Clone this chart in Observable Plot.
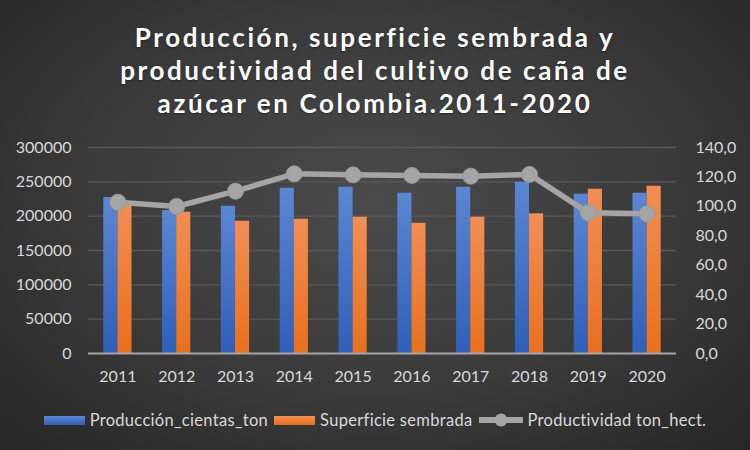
<!DOCTYPE html>
<html>
<head>
<meta charset="utf-8">
<script src="https://cdn.jsdelivr.net/npm/d3@7"></script>
<script src="https://cdn.jsdelivr.net/npm/@observablehq/plot@0.6"></script>
<style>
  html, body { margin: 0; padding: 0; }
  #wrap {
    position: relative; width: 750px; height: 450px; overflow: hidden;
    background: radial-gradient(ellipse at 50% 45%, #4a4a4a 0%, #3a3a3a 55%, #262626 100%);
    font-family: Lato, "Open Sans", sans-serif;
  }
  #title {
    position: absolute; left: 0; top: 21px; width: 750px; text-align: center;
    color: #ffffff; font-weight: bold; font-size: 26px; line-height: 33px;
    letter-spacing: 2.6px;
    text-shadow: 0 1px 2px rgba(0,0,0,0.4);
  }
  #chart { position: absolute; left: 0; top: 125px; }
  #legend {
    position: absolute; left: 0; top: 409px; width: 750px; height: 22px;
    color: #d9d9d9; font-size: 16.5px; letter-spacing: 0.3px;
    display: flex; justify-content: center; align-items: center; gap: 6px;
  }
  .li { display: flex; align-items: center; height: 22px; white-space: nowrap; }
  .sw { width: 41px; height: 9px; margin-right: 5px; }
</style>
</head>
<body>
<div id="wrap">
  <div id="title">Producción, superficie sembrada y<br>productividad del cultivo de caña de<br>azúcar en Colombia.2011-2020</div>
  <div id="chart"></div>
  <div id="legend"></div>
</div>
<script>
const years = ["2011","2012","2013","2014","2015","2016","2017","2018","2019","2020"];
const produccion = [227000, 208200, 214500, 240700, 242100, 233400, 242100, 249400, 232000, 233400];
const superficie = [221000, 205700, 192600, 195500, 198500, 189700, 198500, 203400, 239200, 243600];
const productividad = [102.8, 99.9, 110.3, 122.1, 121.4, 121.0, 120.5, 121.7, 95.6, 94.9];
const leftTicks = [0, 50000, 100000, 150000, 200000, 250000, 300000];
const rightTicks = [0, 20, 40, 60, 80, 100, 120, 140];
const seriesNames = ["Producción_cientas_ton", "Superficie sembrada", "Productividad ton_hect."];

const yMax = 300000, rMax = 140;
const toLeft = v => v * yMax / rMax;

const prodData = years.map((yr, i) => ({year: yr, value: produccion[i]}));
const supData = years.map((yr, i) => ({year: yr, value: superficie[i]}));
const line = years.map((yr, i) => ({year: yr, value: toLeft(productividad[i])}));

const gridC = "#595959", textC = "#d9d9d9";
const half = 14.1;

const chart = Plot.plot({
  width: 750, height: 265,
  marginLeft: 88, marginRight: 74, marginTop: 22, marginBottom: 37,
  style: {background: "transparent", color: textC, fontFamily: "Lato, 'Open Sans', sans-serif", fontSize: "16px", overflow: "visible"},
  x: {domain: years, paddingInner: 0.52, paddingOuter: 0.26, round: false, label: null},
  y: {domain: [0, yMax], label: null},
  marks: [
    Plot.gridY(leftTicks.slice(1), {stroke: gridC, strokeOpacity: 1, strokeWidth: 1.3}),
    Plot.axisY(leftTicks, {anchor: "left", tickSize: 0, tickPadding: 17, label: null, tickFormat: d => String(d), fill: textC, fontSize: 16}),
    Plot.axisY(rightTicks.map(toLeft), {anchor: "right", tickSize: 0, tickPadding: 19, label: null, textAnchor: "start",
      tickFormat: d => (d * rMax / yMax).toFixed(1).replace(".", ","), fill: textC, fontSize: 16}),
    Plot.axisX({tickSize: 0, tickPadding: 17, label: null, fill: textC, fontSize: 16}),
    Plot.barY(prodData, {x: "year", y: "value", fill: "url(#gBlue)", insetRight: half,
      style: {filter: "drop-shadow(1px 1px 1.5px rgba(0,0,0,0.35))"}}),
    Plot.barY(supData, {x: "year", y: "value", fill: "url(#gOrange)", insetLeft: half,
      style: {filter: "drop-shadow(1px 1px 1.5px rgba(0,0,0,0.35))"}}),
    Plot.ruleY([0], {stroke: "#a6a6a6", strokeWidth: 2}),
    Plot.line(line, {x: "year", y: "value", stroke: "#a5a5a5", strokeWidth: 5.5, curve: "linear", style: {filter: "drop-shadow(1px 2px 2px rgba(0,0,0,0.45))"}}),
    Plot.dot(line, {x: "year", y: "value", r: 8, fill: "#a5a5a5", stroke: "#9a9a9a", strokeWidth: 1, style: {filter: "drop-shadow(1px 2px 2px rgba(0,0,0,0.5))"}})
  ]
});

// gradient definitions for bar fills
const ns = "http://www.w3.org/2000/svg";
const defs = document.createElementNS(ns, "defs");
function grad(id, top, bottom) {
  const g = document.createElementNS(ns, "linearGradient");
  g.setAttribute("id", id);
  g.setAttribute("x1", "0"); g.setAttribute("y1", "0");
  g.setAttribute("x2", "0"); g.setAttribute("y2", "1");
  [[0, top], [1, bottom]].forEach(([o, c]) => {
    const s = document.createElementNS(ns, "stop");
    s.setAttribute("offset", o); s.setAttribute("stop-color", c);
    g.appendChild(s);
  });
  defs.appendChild(g);
}
grad("gBlue", "#5b86d2", "#2f5fb9");
grad("gOrange", "#f28e55", "#e8701e");
chart.insertBefore(defs, chart.firstChild);
document.getElementById("chart").appendChild(chart);

// legend
const legend = document.getElementById("legend");
const items = [
  {name: seriesNames[0], html: '<div class="sw" style="background:linear-gradient(#5b86d2,#2f5fb9)"></div>'},
  {name: seriesNames[1], html: '<div class="sw" style="background:linear-gradient(#f28e55,#e8701e)"></div>'},
  {name: seriesNames[2], html: '<svg width="46" height="16" style="margin-right:3px"><line x1="1" y1="8" x2="45" y2="8" stroke="#a5a5a5" stroke-width="6"/><circle cx="23" cy="8" r="6.5" fill="#a5a5a5"/></svg>'}
];
items.forEach(it => {
  const d = document.createElement("div");
  d.className = "li";
  d.innerHTML = it.html + "<span>" + it.name + "</span>";
  legend.appendChild(d);
});
</script>
</body>
</html>
